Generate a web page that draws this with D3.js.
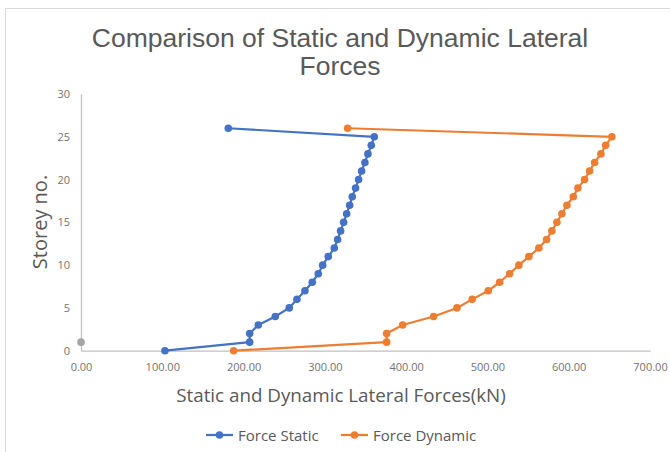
<!DOCTYPE html>
<html>
<head>
<meta charset="utf-8">
<script src="https://cdn.jsdelivr.net/npm/d3@7"></script>
<style>
  html, body { margin: 0; padding: 0; background: #fff; }
  svg { display: block; }
</style>
</head>
<body>
<svg id="chart" width="670" height="452"></svg>
<script>
// Storey levels and lateral forces (kN)
const storeys = [0, 1, 2, 3, 4, 5, 6, 7, 8, 9, 10, 11, 12, 13, 14, 15, 16, 17, 18, 19, 20, 21, 22, 23, 24, 25, 26];
const forceStatic = [103.3, 207.5, 207.5, 218.1, 239.0, 256.2, 265.7, 275.5, 284.5, 291.9, 297.3, 304.2, 311.6, 315.7,
  319.4, 323.1, 326.8, 330.5, 333.7, 337.8, 341.5, 345.2, 349.3, 353.0, 357.1, 360.8, 181.2];
const forceDynamic = [187.8, 376.0, 376.0, 395.7, 433.8, 462.5, 481.3, 501.0, 515.0, 527.3, 538.7, 551.0, 563.3, 572.8,
  579.3, 585.5, 591.6, 597.8, 605.6, 611.3, 619.5, 625.7, 631.9, 639.6, 645.4, 653.1, 328.0];
const originX = [0];
const originY = [1];
const xTicks = [0, 100, 200, 300, 400, 500, 600, 700];
const yTicks = [0, 5, 10, 15, 20, 25, 30];
const seriesNames = ["Force Static", "Force Dynamic"];
const seriesColors = ["#4472C4", "#ED7D31"];

const svg = d3.select("#chart");
const x = d3.scaleLinear().domain([0, 700]).range([81, 650]);
const y = d3.scaleLinear().domain([0, 30]).range([350.7, 94]);

// chart frame (top and left edges)
svg.append("path")
  .attr("d", "M5.5,452 V8.5 H670")
  .attr("fill", "none").attr("stroke", "#d9d9d9").attr("stroke-width", 1);

// title
const title = svg.append("text")
  .attr("text-anchor", "middle")
  .attr("font-family", "'Liberation Sans', Arial, sans-serif")
  .attr("font-size", 26.5)
  .attr("fill", "#595959");
title.append("tspan").attr("x", 340).attr("y", 47).text("Comparison of Static and Dynamic Lateral");
title.append("tspan").attr("x", 340).attr("y", 75).text("Forces");

// axes
const xAxis = d3.axisBottom(x).tickValues(xTicks).tickFormat(d3.format(".2f")).tickSize(0).tickPadding(13);
const yAxis = d3.axisLeft(y).tickValues(yTicks).tickSize(0).tickPadding(11);

const gx = svg.append("g").attr("transform", `translate(0,${y(0)})`).call(xAxis);
const gy = svg.append("g").attr("transform", `translate(${x(0)},0)`).call(yAxis);
[gx, gy].forEach(g => {
  g.select(".domain").attr("stroke", "#bfbfbf").attr("stroke-width", 1.3);
  g.selectAll("text")
    .attr("font-family", "'Open Sans', sans-serif")
    .attr("font-size", 11)
    .attr("fill", "#737373");
});

// axis titles
svg.append("text")
  .attr("x", 341).attr("y", 402)
  .attr("text-anchor", "middle")
  .attr("font-family", "'Open Sans', sans-serif")
  .attr("font-size", 18.8)
  .attr("fill", "#595959")
  .text("Static and Dynamic Lateral Forces(kN)");

svg.append("text")
  .attr("transform", "translate(47,222) rotate(-90)")
  .attr("text-anchor", "middle")
  .attr("font-family", "'Open Sans', sans-serif")
  .attr("font-size", 20)
  .attr("fill", "#595959")
  .text("Storey no.");

// series lines and markers
const line = d3.line().x(d => x(d[0])).y(d => y(d[1]));
[forceStatic, forceDynamic].forEach((vals, i) => {
  const pts = vals.map((v, k) => [v, storeys[k]]);
  svg.append("path")
    .datum(pts)
    .attr("d", line)
    .attr("fill", "none")
    .attr("stroke", seriesColors[i])
    .attr("stroke-width", 2.2)
    .attr("stroke-linejoin", "round");
  svg.append("g").selectAll("circle")
    .data(pts).join("circle")
    .attr("cx", d => x(d[0])).attr("cy", d => y(d[1]))
    .attr("r", 3.8)
    .attr("fill", seriesColors[i]);
});

// single reference point at the origin column
svg.append("g").selectAll("circle")
  .data(originX.map((v, k) => [v, originY[k]])).join("circle")
  .attr("cx", d => x(d[0])).attr("cy", d => y(d[1]))
  .attr("r", 3.8)
  .attr("fill", "#A5A5A5");

// legend
const legend = svg.append("g").attr("transform", "translate(0,435)");
const legendX = [206, 341];
seriesNames.forEach((name, i) => {
  const g = legend.append("g").attr("transform", `translate(${legendX[i]},0)`);
  g.append("line").attr("x1", 0).attr("x2", 27).attr("y1", 0).attr("y2", 0)
    .attr("stroke", seriesColors[i]).attr("stroke-width", 2.2);
  g.append("circle").attr("cx", 13.5).attr("cy", 0).attr("r", 3.8).attr("fill", seriesColors[i]);
  g.append("text").attr("x", 32).attr("y", 5.5)
    .attr("font-family", "'Open Sans', sans-serif")
    .attr("font-size", 15)
    .attr("fill", "#595959")
    .text(name);
});
</script>
</body>
</html>
